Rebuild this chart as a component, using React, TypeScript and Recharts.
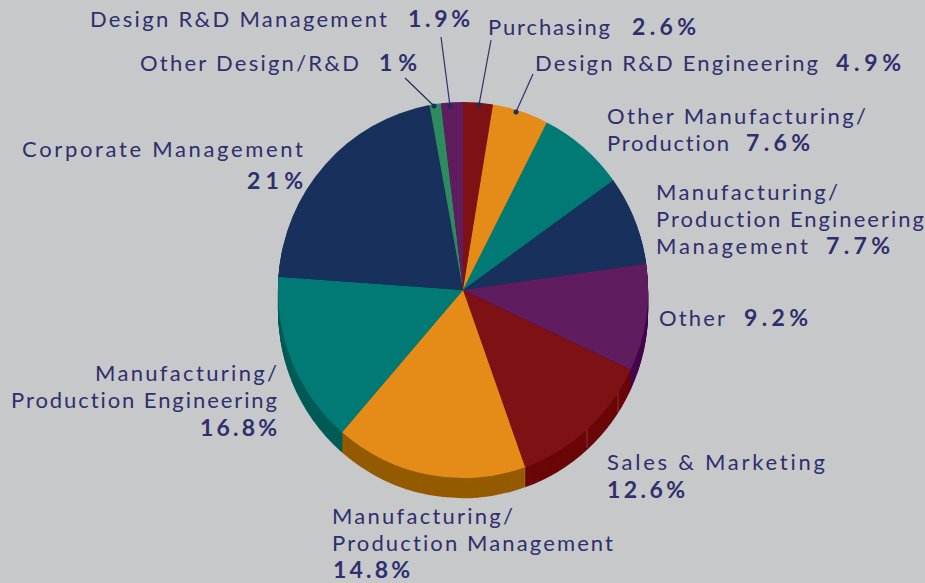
import { Pie, PieChart } from "recharts";

// slices in clockwise order from 12 o'clock, as drawn in the picture
const categories = [
  "Purchasing",
  "Design R&D Engineering",
  "Other Manufacturing/Production",
  "Manufacturing/Production Engineering Management",
  "Other",
  "Sales & Marketing",
  "Manufacturing/Production Engineering",
  "Manufacturing/Production Management",
  "Corporate Management",
  "Other Design/R&D",
  "Design R&D Management",
];
const shares = [2.6, 4.9, 7.6, 7.7, 9.2, 12.6, 16.8, 14.8, 21, 1, 1.9];
const topColors = ["#7d1113", "#e48b18", "#017a75", "#18315c", "#5f1c5f", "#7d1113", "#e48b18", "#017a75", "#18315c", "#2e8b5f", "#5f1c5f"];
const wallColors = ["#6b0709", "#945b00", "#005b57", "#0f2444", "#45074f", "#6b0709", "#945b00", "#005b57", "#0f2444", "#1d6042", "#45074f"];

const CX = 463;
const CY = 290;
const R = 186;
const DEPTH = 20;
const BG = "#c7c8ca";
const INK = "#2e2f6e";

const topData = categories.map((name, i) => ({ name, value: shares[i], fill: topColors[i] }));
const wallData = categories.map((name, i) => ({ name, value: shares[i], fill: wallColors[i] }));
const wallOffsets = Array.from({ length: DEPTH }, (_, i) => DEPTH - i);

// [text, x start, baseline, width, bold]
const labelLines: [string, number, number, number, boolean][] = [
  ["Design R&D Management", 90, 27, 297, false],
  ["1.9%", 408, 27, 62, true],
  ["Other Design/R&D", 140, 71, 219, false],
  ["1%", 379, 71, 38, true],
  ["Purchasing", 488, 35, 122, false],
  ["2.6%", 632, 35, 64, true],
  ["Design R&D Engineering", 535, 71, 283, false],
  ["4.9%", 836, 71, 65, true],
  ["Other Manufacturing/", 607, 123.5, 259, false],
  ["Production", 607, 151, 122, false],
  ["7.6%", 746, 151, 64, true],
  ["Manufacturing/", 656, 199.5, 182, false],
  ["Production Engineering", 656, 226.5, 268, false],
  ["Management", 656, 254, 152, false],
  ["7.7%", 826, 254, 64, true],
  ["Other", 659, 326, 66, false],
  ["9.2%", 744, 326, 64, true],
  ["Sales & Marketing", 607, 470, 218, false],
  ["12.6%", 607, 498, 78, true],
  ["Manufacturing/", 332, 523.5, 181, false],
  ["Production Management", 332, 550.5, 281, false],
  ["14.8%", 333, 578, 77, true],
  ["Manufacturing/", 95, 380.5, 182, false],
  ["Production Engineering", 11, 407.5, 266, false],
  ["16.8%", 200, 436, 77, true],
  ["Corporate Management", 22, 157, 281, false],
  ["21%", 247, 189, 56, true],
];

// leader lines from label to slice: [dot x, dot y, end x, end y, colour]
const leaders: [number, number, number, number, string][] = [
  [479, 105, 491, 40, INK],
  [516, 112, 533, 74, INK],
  [434, 106, 405, 78, "#18315c"],
  [450, 106, 441, 37, INK],
];

// faint seams on the red wall: [x, top y, bottom y]
const seams: [number, number, number][] = [
  [587, 429, 448],
  [618, 393, 412],
  [525, 466, 487],
];

export default function App() {
  return (
    <div style={{ position: "absolute", left: 0, top: 0, width: 925, height: 583, background: BG, overflow: "hidden" }}>
      <div style={{ transform: "scale(0.995, 1.011)", transformOrigin: `${CX}px ${CY}px` }}>
        <PieChart width={925} height={583} margin={{ top: 0, right: 0, bottom: 0, left: 0 }}>
          {wallOffsets.map((offset) => (
            <Pie
              key={offset}
              data={wallData}
              dataKey="value"
              cx={CX}
              cy={CY + offset}
              outerRadius={R}
              startAngle={90}
              endAngle={-270}
              stroke="none"
              isAnimationActive={false}
            />
          ))}
          <Pie
            data={topData}
            dataKey="value"
            cx={CX}
            cy={CY}
            outerRadius={R}
            startAngle={90}
            endAngle={-270}
            stroke="none"
            isAnimationActive={false}
          />
        </PieChart>
      </div>
      <svg width={925} height={583} style={{ position: "absolute", left: 0, top: 0 }}>
        {seams.map(([x, y1, y2]) => (
          <line key={x} x1={x} y1={y1} x2={x} y2={y2} stroke="#ffffff" strokeOpacity={0.2} strokeWidth={1} />
        ))}
        {leaders.map(([x1, y1, x2, y2, color]) => (
          <g key={x1}>
            <line x1={x1} y1={y1} x2={x2} y2={y2} stroke={color} strokeWidth={1.2} />
            <circle cx={x1} cy={y1} r={2.5} fill="#18315c" />
          </g>
        ))}
        {labelLines.map(([text, x, y, width, bold]) => (
          <text
            key={`${text}-${x}-${y}`}
            x={x}
            y={y}
            textLength={width}
            lengthAdjust="spacing"
            fill={INK}
            fontFamily="Lato, sans-serif"
            fontSize={bold ? 23 : 22}
            fontWeight={bold ? 700 : 400}
            style={{ fontVariantLigatures: "none" }}
          >
            {text}
          </text>
        ))}
      </svg>
    </div>
  );
}
